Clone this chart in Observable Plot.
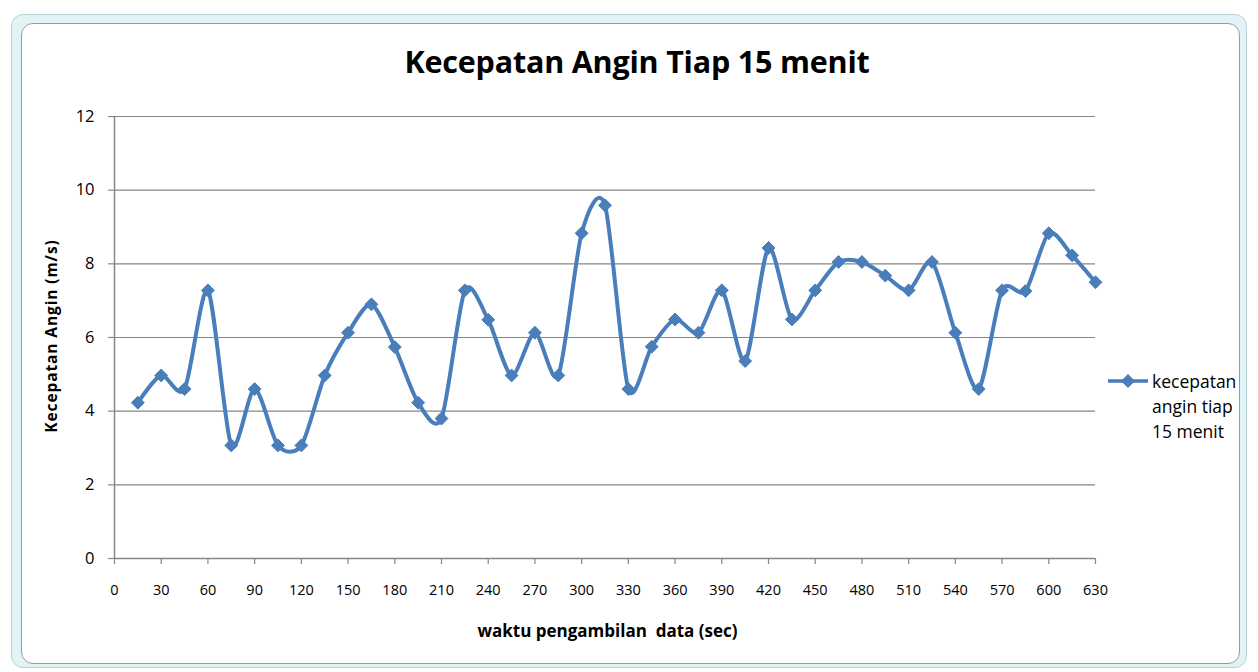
<!DOCTYPE html>
<html>
<head>
<meta charset="utf-8">
<script src="https://cdn.jsdelivr.net/npm/d3@7"></script>
<script src="https://cdn.jsdelivr.net/npm/@observablehq/plot@0.6"></script>
<style>
  html, body { margin: 0; padding: 0; background: #fff; }
  #page { position: relative; width: 1258px; height: 672px; overflow: hidden; font-family: "Open Sans", Lato, sans-serif; }
  #band { position: absolute; left: 11px; top: 14px; width: 1236px; height: 654px; background: #e2f3f5; border: 1px solid #b7d3d9; border-radius: 12px; box-sizing: border-box; }
  #frame { position: absolute; left: 21px; top: 23px; width: 1219px; height: 641px; background: #fff; border: 1.5px solid #9b9b9b; border-radius: 12px; box-sizing: border-box; }
  #chart { position: absolute; left: 0; top: 0; }
  #title { position: absolute; left: 0; width: 1274px; top: 40px; text-align: center; font-size: 30.5px; line-height: 42px; font-weight: bold; color: #000; letter-spacing: -0.2px; }
  #xlabel { position: absolute; left: 0; width: 1215px; top: 619px; text-align: center; font-size: 17px; line-height: 24px; font-weight: bold; color: #000; white-space: pre; }
  #ylabel { position: absolute; left: 51px; top: 336px; transform: translate(-50%, -50%) rotate(-90deg); white-space: pre; font-size: 15.5px; letter-spacing: 0.9px; font-weight: bold; color: #000; }
  #legend { position: absolute; left: 1106px; top: 369px; }
  #legend .txt { position: absolute; left: 46px; top: 0; font-size: 17.5px; line-height: 25px; color: #000; white-space: nowrap; }
</style>
</head>
<body>
<div id="page">
  <div id="band"></div>
  <div id="frame"></div>
  <div id="chart"></div>
  <div id="title">Kecepatan Angin Tiap 15 menit</div>
  <div id="xlabel">waktu pengambilan  data (sec)</div>
  <div id="ylabel">Kecepatan Angin (m/s)</div>
  <div id="legend">
    <svg width="44" height="26" style="position:absolute;left:0;top:0">
      <line x1="2" x2="42" y1="12" y2="12" stroke="#4a7ebb" stroke-width="3.5"/>
      <path d="M22,5 L29,12 L22,19 L15,12 Z" fill="#4a7ebb"/>
    </svg>
    <div class="txt">kecepatan<br>angin tiap<br>15 menit</div>
  </div>
</div>
<script>
// time (sec) of each reading
const times = [15,30,45,60,75,90,105,120,135,150,165,180,195,210,225,240,255,270,285,300,315,330,345,360,375,390,405,420,435,450,465,480,495,510,525,540,555,570,585,600,615,630];
// wind speed (m/s)
const speeds = [4.23,4.97,4.60,7.28,3.07,4.60,3.07,3.07,4.97,6.13,6.90,5.74,4.23,3.80,7.28,6.48,4.97,6.13,4.97,8.83,9.59,4.60,5.75,6.49,6.13,7.28,5.36,8.43,6.49,7.28,8.05,8.05,7.68,7.28,8.05,6.13,4.60,7.28,7.26,8.83,8.23,7.50];
const xTicks = [0,30,60,90,120,150,180,210,240,270,300,330,360,390,420,450,480,510,540,570,600,630];
const yTicks = [0,2,4,6,8,10,12];
const seriesName = "kecepatan angin tiap 15 menit";

const data = times.map((t, i) => ({time: t, speed: speeds[i], series: seriesName}));
const blue = "#4a7ebb";
const gray = "#868686";

const chart = Plot.plot({
  width: 1258,
  height: 672,
  marginLeft: 114,
  marginRight: 163,
  marginTop: 116,
  marginBottom: 114,
  style: {background: "transparent", fontFamily: "'Open Sans', Lato, sans-serif", fontSize: "14.5px", color: "#000"},
  x: {domain: [0, 630]},
  y: {domain: [0, 12]},
  marks: [
    Plot.gridY(yTicks, {stroke: gray, strokeOpacity: 1, strokeWidth: 1.2}),
    Plot.axisX(xTicks, {tickSize: 6, tickPadding: 20, stroke: gray, strokeWidth: 1.2, label: null, fill: "#000", fontSize: 14.5}),
    Plot.axisY(yTicks, {tickSize: 6, tickPadding: 14, stroke: gray, strokeWidth: 1.2, label: null, fill: "#000", fontSize: 16.5}),
    Plot.ruleX([0], {stroke: gray, strokeWidth: 1.5}),
    Plot.ruleY([0], {stroke: gray, strokeWidth: 1.5}),
    Plot.line(data, {x: "time", y: "speed", stroke: blue, strokeWidth: 4, curve: d3.curveCardinal.tension(0.2)}),
    Plot.dot(data, {x: "time", y: "speed", symbol: "diamond2", r: 5.8, fill: blue, stroke: blue, strokeWidth: 1})
  ]
});
document.getElementById("chart").appendChild(chart);
</script>
</body>
</html>
